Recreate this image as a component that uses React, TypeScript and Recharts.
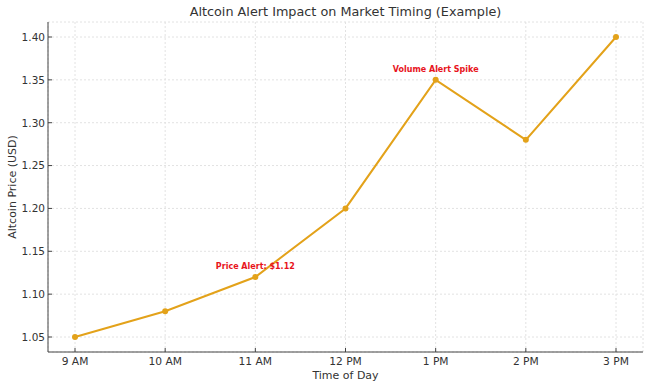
import { LineChart, Line, XAxis, YAxis, CartesianGrid, ReferenceDot } from 'recharts';

const times = ['9 AM', '10 AM', '11 AM', '12 PM', '1 PM', '2 PM', '3 PM'];
const prices = [1.05, 1.08, 1.12, 1.2, 1.35, 1.28, 1.4];
const yTicks = [1.05, 1.1, 1.15, 1.2, 1.25, 1.3, 1.35, 1.4];

const alerts = [
  { time: '11 AM', price: 1.12, text: 'Price Alert: $1.12' },
  { time: '1 PM', price: 1.35, text: 'Volume Alert Spike' },
];

const data = times.map((t, i) => ({ time: t, price: prices[i] }));

const FONT = '"DejaVu Sans", sans-serif';
const LINE = '#e3a21a';

// matplotlib-style inward ticks
const XTick = (props: any) => {
  const { x, payload } = props;
  return (
    <g>
      <line x1={x} x2={x} y1={352} y2={348} stroke="#444" />
      <text x={x} y={365} textAnchor="middle" fontSize={10.7} fill="#333" fontFamily={FONT}>
        {payload.value}
      </text>
    </g>
  );
};

const YTick = (props: any) => {
  const { y, payload } = props;
  return (
    <g>
      <line x1={48} x2={52} y1={y} y2={y} stroke="#444" />
      <text x={45} y={y} dy={3.8} textAnchor="end" fontSize={10.5} fill="#333" fontFamily={FONT}>
        {payload.value.toFixed(2)}
      </text>
    </g>
  );
};

export default function App() {
  return (
    <div style={{ position: 'relative', width: 650, height: 388, background: '#fff' }}>
      <style>{`body{margin:0}`}</style>
      <div
        style={{
          position: 'absolute',
          top: 4,
          left: 48,
          width: 595,
          textAlign: 'center',
          fontFamily: FONT,
          fontSize: 12.8,
          color: '#333',
        }}
      >
        Altcoin Alert Impact on Market Timing (Example)
      </div>
      <LineChart width={650} height={388} data={data} margin={{ top: 22, right: 7, bottom: 0, left: 0 }}>
        <CartesianGrid stroke="#e2e2e2" strokeDasharray="2 2" />
        <XAxis
          dataKey="time"
          padding={{ left: 27, right: 27 }}
          height={36}
          stroke="#444"
          tickLine={false}
          tick={<XTick />}
          interval={0}
          label={{ value: 'Time of Day', position: 'insideBottom', offset: 9, fontSize: 11, fill: '#333', fontFamily: FONT }}
        />
        <YAxis
          width={48}
          domain={[1.0325, 1.4175]}
          ticks={yTicks}
          allowDataOverflow
          stroke="#444"
          tickLine={false}
          tick={<YTick />}
          label={{
            value: 'Altcoin Price (USD)',
            angle: -90,
            position: 'insideLeft',
            offset: 12,
            fontSize: 11,
            fill: '#333',
            fontFamily: FONT,
            style: { textAnchor: 'middle' },
          }}
        />
        <Line
          dataKey="price"
          stroke={LINE}
          strokeWidth={2}
          dot={{ r: 3, fill: LINE, stroke: LINE, strokeWidth: 0 }}
          isAnimationActive={false}
        />
        {alerts.map((a) => (
          <ReferenceDot
            key={a.text}
            x={a.time}
            y={a.price}
            r={0}
            stroke="none"
            label={{
              value: a.text,
              position: 'top',
              offset: 8,
              fontSize: 8,
              fontWeight: 'bold',
              fill: '#e8141c',
              fontFamily: FONT,
            }}
          />
        ))}
      </LineChart>
    </div>
  );
}
